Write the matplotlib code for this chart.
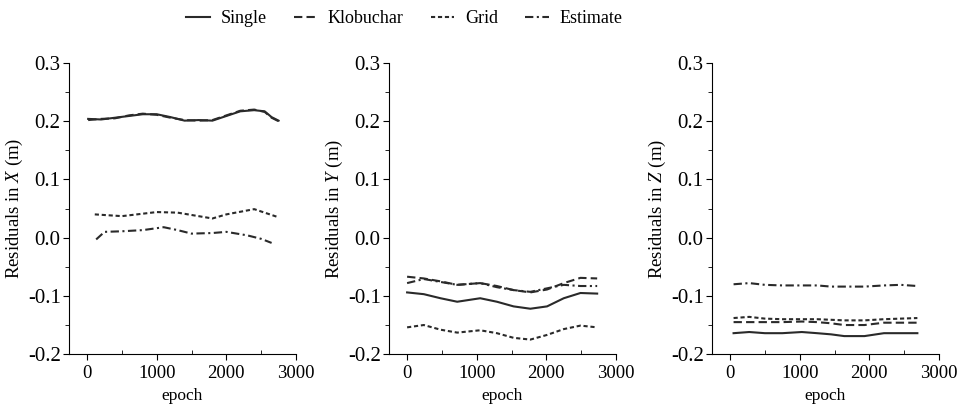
import numpy as np
import matplotlib
matplotlib.use('Agg')
import matplotlib.pyplot as plt
from matplotlib.ticker import MultipleLocator

plt.rcParams['font.family'] = 'Liberation Serif'
plt.rcParams['mathtext.fontset'] = 'custom'
plt.rcParams['mathtext.rm'] = 'Liberation Serif'
plt.rcParams['mathtext.it'] = 'Liberation Serif:italic'
plt.rcParams['lines.scale_dashes'] = False

series = ['Single', 'Klobuchar', 'Grid', 'Estimate']

# residuals, epoch vs. value
# X component
x_ep = [15, 200, 400, 600, 800, 1000, 1200, 1400, 1600, 1800, 2000, 2200, 2400, 2550, 2650, 2750]
x_single = [0.204, 0.203, 0.206, 0.209, 0.212, 0.212, 0.207, 0.201, 0.202, 0.201, 0.209, 0.217, 0.219, 0.217, 0.207, 0.201]
x_klob = [0.202, 0.204, 0.205, 0.210, 0.213, 0.211, 0.206, 0.202, 0.201, 0.202, 0.210, 0.218, 0.220, 0.216, 0.206, 0.200]
x_grid_ep = [110, 500, 1000, 1300, 1800, 2000, 2400, 2750]
x_grid = [0.040, 0.037, 0.044, 0.043, 0.033, 0.040, 0.049, 0.035]
x_est_ep = [130, 250, 500, 800, 1100, 1300, 1500, 1800, 2000, 2300, 2500, 2650]
x_est = [-0.003, 0.010, 0.011, 0.013, 0.018, 0.013, 0.007, 0.008, 0.010, 0.004, -0.002, -0.009]

# Y component
y_ep = [0, 240, 480, 720, 1050, 1290, 1530, 1770, 2010, 2250, 2490, 2730]
y_single = [-0.094, -0.097, -0.104, -0.110, -0.104, -0.110, -0.118, -0.122, -0.118, -0.104, -0.095, -0.096]
y_klob = [-0.067, -0.070, -0.075, -0.081, -0.078, -0.083, -0.090, -0.094, -0.089, -0.078, -0.069, -0.070]
y_grid = [-0.154, -0.150, -0.158, -0.163, -0.159, -0.164, -0.172, -0.175, -0.167, -0.157, -0.151, -0.154]
y_est = [-0.078, -0.071, -0.076, -0.081, -0.078, -0.085, -0.090, -0.093, -0.087, -0.081, -0.083, -0.083]

# Z component
z_ep = [50, 275, 500, 750, 1030, 1250, 1450, 1640, 1930, 2210, 2450, 2690]
z_single = [-0.164, -0.162, -0.164, -0.164, -0.162, -0.164, -0.166, -0.169, -0.169, -0.164, -0.164, -0.164]
z_klob = [-0.145, -0.145, -0.145, -0.145, -0.144, -0.145, -0.147, -0.150, -0.150, -0.146, -0.146, -0.146]
z_grid = [-0.138, -0.136, -0.139, -0.140, -0.140, -0.140, -0.141, -0.142, -0.142, -0.140, -0.139, -0.138]
z_est = [-0.080, -0.078, -0.081, -0.082, -0.082, -0.082, -0.084, -0.084, -0.084, -0.082, -0.081, -0.083]

# dash lengths in points (not scaled by line width)
styles = {
    'Single': dict(linestyle='-'),
    'Klobuchar': dict(linestyle=(0, (6, 3))),
    'Grid': dict(linestyle=(0, (3, 2))),
    'Estimate': dict(linestyle=(0, (6, 2.5, 1.5, 2.5))),
}
col = '#2a2a2a'

fig = plt.figure(figsize=(9.72, 4.08), dpi=100)
lefts = [0.071, 0.4002, 0.7325]
axes = [fig.add_axes([l, 0.132, 0.2335, 0.7136]) for l in lefts]

panels = [
    ('X', [(x_ep, x_single), (x_ep, x_klob), (x_grid_ep, x_grid), (x_est_ep, x_est)]),
    ('Y', [(y_ep, y_single), (y_ep, y_klob), (y_ep, y_grid), (y_ep, y_est)]),
    ('Z', [(z_ep, z_single), (z_ep, z_klob), (z_ep, z_grid), (z_ep, z_est)]),
]

handles = []
for ax, (comp, data) in zip(axes, panels):
    hs = []
    for name, (ep, val) in zip(series, data):
        h, = ax.plot(ep, val, color=col, lw=1.5, label=name, **styles[name])
        hs.append(h)
    handles = hs
    ax.set_xlim(-260, 3000)
    ax.set_ylim(-0.2, 0.3)
    ax.set_xticks([0, 1000, 2000, 3000])
    ax.set_yticks([-0.2, -0.1, 0.0, 0.1, 0.2, 0.3])
    ax.set_yticklabels(['-0.2', '-0.1', '0.0', '0.1', '0.2', '0.3'])
    ax.xaxis.set_minor_locator(MultipleLocator(500))
    ax.yaxis.set_minor_locator(MultipleLocator(0.05))
    ax.spines['top'].set_visible(False)
    ax.spines['right'].set_visible(False)
    ax.tick_params(axis='x', which='major', direction='out', length=4, labelsize=13.5, pad=4)
    ax.tick_params(axis='x', which='minor', direction='in', length=3)
    ax.tick_params(axis='y', which='major', direction='out', length=4, labelsize=15, pad=2)
    ax.tick_params(axis='y', which='minor', direction='out', length=3)
    ax.set_xlabel('epoch', fontsize=12.5, labelpad=4)
    ax.set_ylabel('Residuals in $X$ (m)'.replace('X', comp), fontsize=13.5, labelpad=2)

fig.legend(handles=handles, labels=series, loc='center', bbox_to_anchor=(0.416, 0.955),
           ncol=4, frameon=False, fontsize=13, handlelength=1.3, columnspacing=1.5,
           handletextpad=0.6)

fig.savefig('out.png', dpi=100)
